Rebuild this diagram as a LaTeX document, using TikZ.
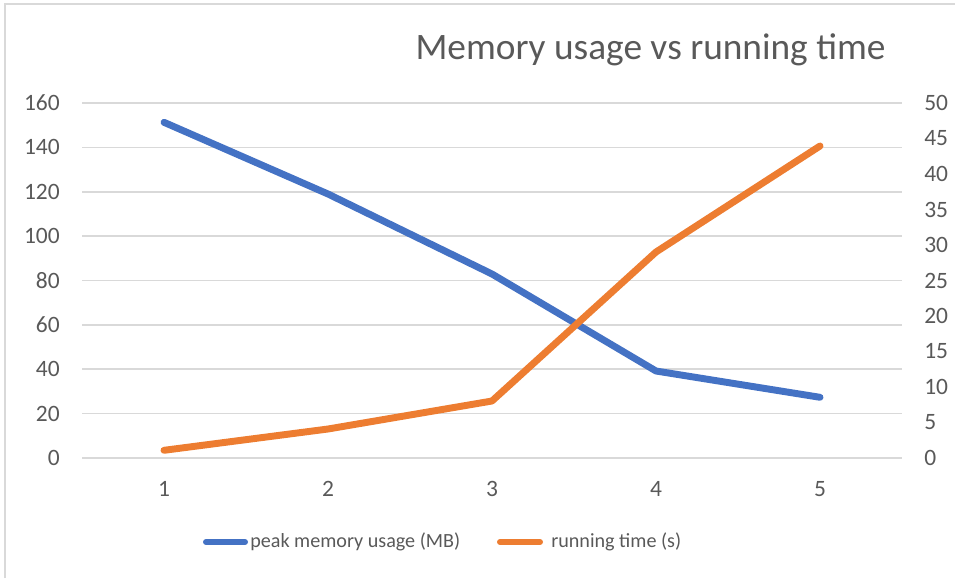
\documentclass[tikz,border=0pt]{standalone}
\usepackage{fontspec}
\setmainfont{Carlito}
\definecolor{txt}{HTML}{595959}
\definecolor{gridc}{HTML}{D9D9D9}
\definecolor{frame}{HTML}{D9D9D9}
\definecolor{blueS}{HTML}{4472C4}
\definecolor{orangeS}{HTML}{ED7D31}
\tikzset{
  gridline/.style={draw=gridc, line width=1.2pt},
  ticklab/.style={text=txt, inner sep=0pt, font=\fontsize{17.6}{20}\selectfont},
  leglab/.style={text=txt, inner sep=0pt, font=\fontsize{15.1}{18}\selectfont},
  titlelab/.style={text=txt, inner sep=0pt, font=\fontsize{28}{32}\selectfont},
  series/.style={line width=5.2pt, line cap=round, line join=round},
}
\begin{document}
\begin{tikzpicture}[x=0.75pt,y=-0.75pt]
\useasboundingbox (0,0) rectangle (955,578);
% frame
\draw[frame, line width=1.5pt] (5,578) -- (5,4) -- (955,4);
% title
\node[titlelab, anchor=center] (title) at (650.5,50) {Memory usage vs running time};
% gridlines and left axis labels
\foreach \i in {0,...,8}{
  \pgfmathsetmacro{\yy}{458-\i*44.375}
  \pgfmathtruncatemacro{\lv}{\i*20}
  \draw[gridline] (82,\yy) -- (902,\yy);
  \node[ticklab, anchor=east] (L\i) at (60,\yy) {\lv};
}
% right axis labels
\foreach \i in {0,...,10}{
  \pgfmathsetmacro{\yy}{458-\i*35.5}
  \pgfmathtruncatemacro{\rv}{\i*5}
  \node[ticklab, anchor=west] (R\i) at (924,\yy) {\rv};
}
% category labels
\foreach \c in {1,...,5}{
  \node[ticklab] (X\c) at (164*\c,489) {\c};
}
% series
\coordinate (b1) at (164,122.3);
\coordinate (b2) at (328,194);
\coordinate (b3) at (492,274);
\coordinate (b4) at (656,371);
\coordinate (b5) at (820,397.3);
\coordinate (o1) at (164,450.3);
\coordinate (o2) at (328,429);
\coordinate (o3) at (492,401);
\coordinate (o4) at (656,252);
\coordinate (o5) at (820,146);
\draw[series, blueS] (b1) -- (b2) -- (b3) -- (b4) -- (b5);
\draw[series, orangeS] (o1) -- (o2) -- (o3) -- (o4) -- (o5);
% legend
\coordinate (lb1) at (206,542);
\coordinate (lb2) at (245,542);
\coordinate (lo1) at (500,542);
\coordinate (lo2) at (540,542);
\draw[series, blueS, line width=4.5pt] (lb1) -- (lb2);
\draw[series, orangeS, line width=4.5pt] (lo1) -- (lo2);
\node[leglab, anchor=west] (leg1) at (250,542) {peak memory usage (MB)};
\node[leglab, anchor=west] (leg2) at (551,542) {running time (s)};
\end{tikzpicture}
\end{document}
